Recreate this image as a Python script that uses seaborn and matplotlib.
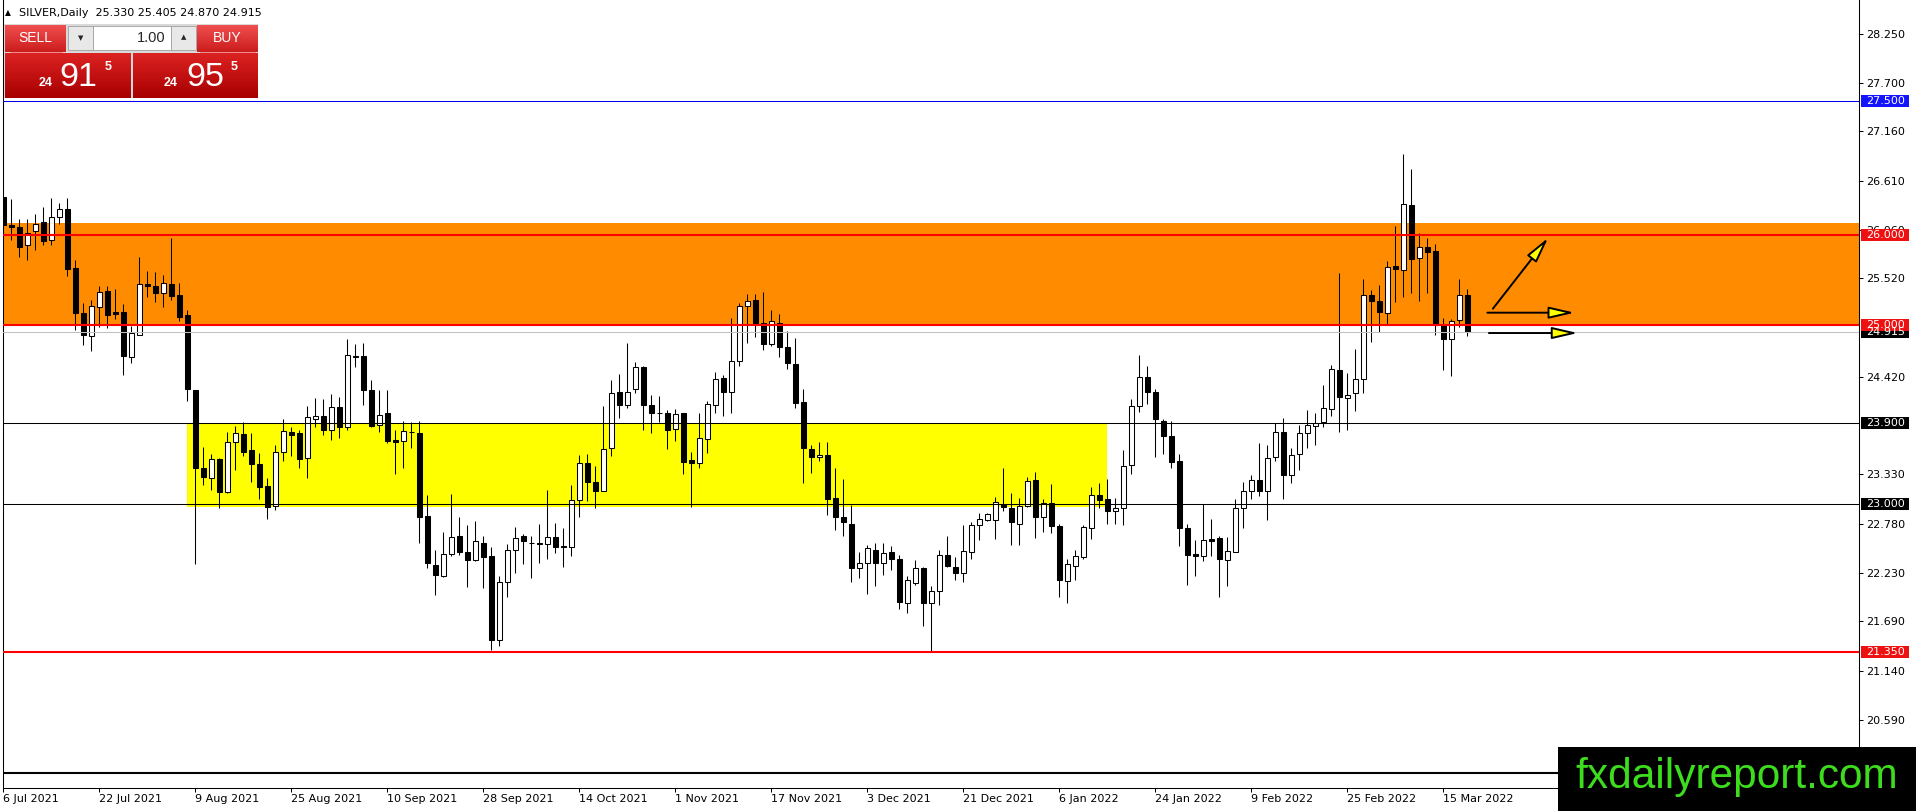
import matplotlib
matplotlib.use('Agg')
import matplotlib.pyplot as plt
from matplotlib.patches import Rectangle
from matplotlib.colors import LinearSegmentedColormap
import numpy as np
import seaborn as sns

# Daily SILVER candles, 6 Jul 2021 .. 18 Mar 2022 (one per weekday)
opens = [26.43, 26.11, 26.09, 25.89, 26.05, 26.15, 25.95, 26.20, 26.29, 25.63,
         25.13, 24.88, 25.20, 25.38, 25.14, 25.14, 24.64, 24.89, 25.46, 25.43,
         25.35, 25.46, 25.33, 25.11, 24.27, 23.40, 23.29, 23.50, 23.13, 23.69,
         23.78, 23.60, 23.45, 23.20, 22.98, 23.58, 23.80, 23.79, 23.51, 23.95,
         23.98, 23.83, 24.08, 23.86, 24.65, 24.65, 24.27, 23.88, 24.01, 23.71,
         23.70, 23.80, 23.79, 22.87, 22.32, 22.20, 22.44, 22.64, 22.46, 22.38,
         22.57, 22.42, 21.48, 22.13, 22.49, 22.64, 22.57, 22.57, 22.55, 22.63,
         22.53, 22.52, 23.04, 23.46, 23.25, 23.15, 23.62, 24.25, 24.11, 24.28,
         24.53, 24.11, 24.02, 24.01, 23.84, 24.01, 23.49, 23.46, 23.73, 24.10,
         24.41, 24.25, 24.60, 25.21, 25.28, 25.02, 24.78, 25.02, 24.75, 24.56,
         24.14, 23.61, 23.52, 23.55, 23.07, 22.85, 22.78, 22.28, 22.34, 22.49,
         22.34, 22.46, 22.39, 21.90, 22.12, 22.28, 21.89, 22.03, 22.43, 22.30,
         22.23, 22.46, 22.76, 22.82, 22.82, 23.00, 22.96, 22.78, 22.98, 23.27,
         22.85, 23.01, 22.75, 22.14, 22.31, 22.41, 22.73, 23.10, 23.05, 22.92,
         22.96, 23.44, 24.09, 24.42, 24.25, 23.93, 23.76, 23.48, 22.73, 22.44,
         22.42, 22.61, 22.62, 22.38, 22.46, 22.96, 23.15, 23.27, 23.15, 23.52,
         23.80, 23.32, 23.56, 23.79, 23.87, 23.91, 24.06, 24.50, 24.18, 24.24,
         24.39, 25.33, 25.27, 25.13, 25.66, 25.61, 26.34, 25.74, 25.87, 25.82,
         25.00, 24.84, 25.05, 25.33]
highs = [26.74, 26.40, 26.18, 26.18, 26.24, 26.31, 26.42, 26.36, 26.41, 25.72,
         25.24, 25.28, 25.43, 25.43, 25.40, 25.23, 24.99, 25.76, 25.60, 25.59,
         25.56, 25.97, 25.47, 25.17, 24.27, 23.64, 23.56, 23.51, 23.80, 23.87,
         23.92, 23.79, 23.57, 23.29, 23.66, 23.95, 23.86, 23.83, 24.09, 24.18,
         24.17, 24.23, 24.19, 24.84, 24.79, 24.80, 24.38, 24.27, 24.27, 23.83,
         23.93, 23.92, 23.93, 23.10, 22.49, 22.69, 23.11, 22.85, 22.77, 22.81,
         22.64, 22.52, 22.20, 22.55, 22.74, 22.67, 22.64, 22.78, 23.16, 22.79,
         22.73, 23.21, 23.55, 23.56, 23.42, 24.09, 24.38, 24.45, 24.80, 24.59,
         24.54, 24.22, 24.20, 24.05, 24.06, 24.02, 23.58, 24.01, 24.15, 24.47,
         24.44, 25.08, 25.24, 25.34, 25.34, 25.37, 25.17, 25.12, 24.93, 24.85,
         24.28, 23.66, 23.69, 23.69, 23.40, 23.28, 22.99, 22.46, 22.54, 22.57,
         22.56, 22.53, 22.43, 22.20, 22.38, 22.30, 22.08, 22.49, 22.64, 22.41,
         22.76, 22.80, 22.90, 22.90, 23.08, 23.40, 23.12, 23.07, 23.30, 23.36,
         23.06, 23.22, 22.78, 22.39, 22.49, 22.77, 23.19, 23.23, 23.28, 23.07,
         23.60, 24.17, 24.66, 24.54, 24.28, 23.95, 23.93, 23.56, 22.78, 22.60,
         23.00, 22.83, 22.64, 22.63, 23.06, 23.25, 23.32, 23.68, 23.66, 23.90,
         23.96, 23.63, 23.88, 24.05, 24.01, 24.33, 24.55, 25.58, 24.46, 24.73,
         25.51, 25.39, 25.44, 25.71, 26.10, 26.91, 26.74, 26.03, 25.97, 25.90,
         25.08, 25.07, 25.51, 25.405]
lows = [25.97, 25.95, 25.76, 25.72, 25.84, 25.89, 25.89, 26.13, 25.55, 24.94,
        24.77, 24.71, 24.97, 24.96, 25.07, 24.44, 24.57, 24.89, 25.31, 25.25,
        25.20, 25.28, 25.04, 24.15, 22.33, 23.21, 23.16, 22.96, 23.12, 23.38,
        23.53, 23.25, 23.05, 22.83, 22.93, 23.48, 23.53, 23.40, 23.29, 23.86,
        23.77, 23.71, 23.74, 23.83, 24.53, 24.11, 23.86, 23.80, 23.68, 23.34,
        23.40, 23.62, 22.56, 22.29, 21.98, 22.19, 22.42, 22.43, 22.07, 22.36,
        22.06, 21.37, 21.42, 21.96, 22.23, 22.33, 22.17, 22.34, 22.39, 22.45,
        22.30, 22.42, 22.86, 23.03, 22.96, 23.14, 23.53, 23.96, 24.07, 24.24,
        23.83, 23.79, 23.91, 23.61, 23.70, 23.34, 22.97, 23.40, 23.57, 24.01,
        23.98, 24.01, 24.54, 24.80, 24.86, 24.72, 24.76, 24.64, 24.51, 24.07,
        23.23, 23.35, 23.48, 22.88, 22.71, 22.64, 22.13, 22.17, 22.00, 22.08,
        22.21, 22.26, 21.83, 21.78, 22.10, 21.64, 21.36, 21.87, 22.30, 22.15,
        22.13, 22.39, 22.60, 22.81, 22.61, 22.92, 22.54, 22.54, 22.97, 22.62,
        22.69, 22.68, 21.96, 21.90, 22.15, 22.39, 22.61, 22.95, 22.78, 22.78,
        22.76, 23.34, 24.03, 24.12, 23.52, 23.56, 23.40, 22.53, 22.10, 22.20,
        22.36, 22.42, 21.96, 22.08, 22.46, 22.73, 23.05, 23.09, 22.82, 23.48,
        23.05, 23.23, 23.38, 23.63, 23.66, 23.86, 23.98, 23.80, 23.83, 24.04,
        24.24, 24.81, 24.92, 25.00, 25.25, 25.31, 25.35, 25.27, 25.36, 24.89,
        24.50, 24.43, 24.97, 24.87]
closes = [26.11, 26.09, 25.87, 26.03, 26.13, 25.94, 26.20, 26.29, 25.62, 25.13,
          24.89, 25.21, 25.37, 25.11, 25.12, 24.65, 24.91, 25.46, 25.43, 25.35,
          25.47, 25.32, 25.09, 24.28, 23.40, 23.30, 23.50, 23.13, 23.69, 23.79,
          23.58, 23.45, 23.19, 22.97, 23.58, 23.81, 23.77, 23.50, 23.97, 23.98,
          23.83, 24.08, 23.86, 24.66, 24.64, 24.27, 23.87, 23.99, 23.70, 23.69,
          23.82, 23.80, 22.86, 22.34, 22.21, 22.44, 22.63, 22.46, 22.37, 22.59,
          22.41, 21.48, 22.13, 22.49, 22.62, 22.59, 22.56, 22.55, 22.63, 22.52,
          22.52, 23.04, 23.46, 23.24, 23.14, 23.61, 24.24, 24.11, 24.25, 24.53,
          24.11, 24.02, 24.01, 23.83, 24.00, 23.47, 23.46, 23.74, 24.12, 24.40,
          24.25, 24.60, 25.21, 25.27, 25.02, 24.79, 25.04, 24.75, 24.57, 24.13,
          23.62, 23.52, 23.55, 23.06, 22.85, 22.80, 22.28, 22.34, 22.51, 22.34,
          22.45, 22.39, 21.91, 22.15, 22.28, 21.89, 22.03, 22.43, 22.31, 22.23,
          22.47, 22.76, 22.83, 22.89, 23.02, 22.97, 22.80, 22.98, 23.26, 22.85,
          23.01, 22.75, 22.15, 22.33, 22.42, 22.74, 23.10, 23.04, 22.92, 22.96,
          23.42, 24.09, 24.42, 24.25, 23.95, 23.76, 23.47, 22.73, 22.43, 22.42,
          22.60, 22.59, 22.39, 22.47, 22.96, 23.15, 23.27, 23.15, 23.51, 23.80,
          23.32, 23.55, 23.79, 23.88, 23.90, 24.07, 24.51, 24.19, 24.22, 24.40,
          25.33, 25.26, 25.14, 25.65, 25.62, 26.35, 25.73, 25.87, 25.81, 25.00,
          24.84, 25.04, 25.33, 24.915]

# bottom time scale, one label every 12 bars
date_labels = ['6 Jul 2021', '22 Jul 2021', '9 Aug 2021', '25 Aug 2021',
               '10 Sep 2021', '28 Sep 2021', '14 Oct 2021', '1 Nov 2021',
               '17 Nov 2021', '3 Dec 2021', '21 Dec 2021', '6 Jan 2022',
               '24 Jan 2022', '9 Feb 2022', '25 Feb 2022', '15 Mar 2022']
# scale labels that are not hidden behind a level box
price_ticks = [28.25, 27.70, 27.16, 26.61, 26.06, 25.52, 24.42,
               23.33, 22.78, 22.23, 21.69, 21.14, 20.59]

# drawn levels and zones
level_prices = [27.5, 26.0, 25.0, 23.9, 23.0, 21.35, 24.915, 20.0]
level_colors = ['#0000ee', '#ff0000', '#ff0000', 'black', 'black', '#ff0000',
                '#c0c0c0', 'black']
level_widths = [0.75, 1.5, 1.5, 0.75, 0.75, 1.5, 0.75, 1.5]
label_prices = [27.5, 26.0, 23.9, 23.0, 21.35, 24.915, 25.0]
label_colors = ['#1414ff', '#ee1111', 'black', 'black', '#ee1111', 'black', '#ee1111']
orange_zone = (25.0, 26.14)
yellow_zone = (23.0, 137.9, 22.97, 23.9)   # bar from, bar to, low, high

W, H = 1916, 811


def grad_box(ov, x0, y0, w, h, top, bottom, z=20):
    cmap = LinearSegmentedColormap.from_list('g', [top, bottom])
    ov.imshow(np.linspace(0, 1, 60).reshape(-1, 1), cmap=cmap, aspect='auto',
              extent=(x0, x0 + w, y0 + h, y0), origin='upper', zorder=z)


def main():
    sns.set_theme(style='white')
    plt.rcParams['font.family'] = ['DejaVu Sans']

    fig = plt.figure(figsize=(W / 100, H / 100), dpi=100, facecolor='white')
    ax = fig.add_axes([2.7 / W, 23 / H, (1859 - 2.7) / W, 788 / H])
    ax.set_facecolor('white')

    o = np.array(opens)
    h = np.array(highs)
    l = np.array(lows)
    c = np.array(closes)
    x = np.arange(len(o))
    up = c >= o

    # zones
    ax.axhspan(orange_zone[0], orange_zone[1], color='#ff8c00', lw=0, zorder=0.5)
    yx0, yx1, ylo, yhi = yellow_zone
    ax.add_patch(Rectangle((yx0, ylo), yx1 - yx0, yhi - ylo, color='#ffff00',
                           lw=0, zorder=0.6))

    # candles
    ax.vlines(x, l, h, color='black', lw=0.75, zorder=3)
    ax.bar(x, np.abs(c - o), bottom=np.minimum(o, c), width=0.55,
           color=np.where(up, 'white', 'black'), edgecolor='black',
           linewidth=0.75, zorder=4)

    # horizontal levels
    for p, col, lw in zip(level_prices, level_colors, level_widths):
        ax.axhline(p, color=col, lw=lw, zorder=5)

    # arrows
    arr = dict(arrowstyle='-|>,head_length=1.3,head_width=0.3', fc='#ffff00',
               ec='black', lw=1.4, shrinkA=0, shrinkB=0)
    ax.annotate('', xy=(193.1, 25.97), xytext=(186.2, 25.18), arrowprops=arr, zorder=6)
    ax.annotate('', xy=(196.4, 25.135), xytext=(185.5, 25.135), arrowprops=arr, zorder=6)
    ax.annotate('', xy=(196.8, 24.908), xytext=(185.7, 24.908), arrowprops=arr, zorder=6)

    ax.set_xlim(-0.075, 231.96)
    ax.set_ylim(19.83, 28.625)

    # price scale on the right
    ax.yaxis.tick_right()
    ax.set_yticks(price_ticks)
    ax.set_yticklabels(['%.3f' % p for p in price_ticks])
    ax.set_xticks(np.arange(0, 12 * len(date_labels), 12))
    ax.set_xticklabels(date_labels, ha='left')
    ax.tick_params(axis='y', which='major', right=True, left=False, direction='out',
                   length=3, width=0.75, pad=2, labelsize=8, colors='black')
    ax.tick_params(axis='x', which='major', bottom=True, direction='out',
                   length=3, width=0.75, pad=1.5, labelsize=8, colors='black')
    ax.grid(False)
    for side in ['left', 'right', 'bottom']:
        ax.spines[side].set_color('black')
        ax.spines[side].set_linewidth(0.75)
    ax.spines['top'].set_visible(False)

    # highlighted price labels
    tr = ax.get_yaxis_transform()
    span = 1859 - 2.7
    for p, col in zip(label_prices, label_colors):
        ax.add_patch(Rectangle((1 + 2 / span, p - 0.067), 48 / span, 0.134,
                               transform=tr, color=col, lw=0, clip_on=False, zorder=10))
        ax.text(1 + 7 / span, p, '%.3f' % p, transform=tr, color='white', fontsize=8,
                va='center', ha='left', clip_on=False, zorder=11)

    # overlay in pixel units: trading panel, header, watermark
    ov = fig.add_axes([0, 0, 1, 1])
    ov.patch.set_alpha(0)
    ov.set_autoscale_on(False)
    ov.set_xlim(0, W)
    ov.set_ylim(H, 0)
    ov.axis('off')

    ov.text(5, 13, '\u25b2', fontsize=5.5, va='center', ha='left', color='black')
    ov.text(19, 13, 'SILVER,Daily  25.330 25.405 24.870 24.915', fontsize=8,
            va='center', ha='left', color='black')

    ov.add_patch(Rectangle((4, 24), 254, 74, color='#d9d9d9', lw=0, zorder=19))
    grad_box(ov, 5, 25, 61, 27, '#f05050', '#cc1c1c')
    grad_box(ov, 197, 25, 61, 27, '#f05050', '#cc1c1c')
    grad_box(ov, 5, 53, 126, 45, '#dc2222', '#a80000')
    grad_box(ov, 133, 53, 125, 45, '#dc2222', '#a80000')
    ov.add_patch(Rectangle((68, 26), 25, 24, fc='#e8e8e8', ec='#a0a0a0', lw=0.6, zorder=21))
    ov.add_patch(Rectangle((93, 26), 78, 24, fc='white', ec='#a0a0a0', lw=0.6, zorder=21))
    ov.add_patch(Rectangle((171, 26), 25, 24, fc='#e8e8e8', ec='#a0a0a0', lw=0.6, zorder=21))
    ov.plot([10, 62], [52, 52], color='#f08080', lw=0.6, zorder=22)
    ov.plot([200, 255], [52, 52], color='#f08080', lw=0.6, zorder=22)
    ov.text(80.5, 38, '\u25bc', fontsize=5, ha='center', va='center', zorder=22)
    ov.text(183.5, 37, '\u25b2', fontsize=5, ha='center', va='center', zorder=22)
    ov.text(166, 38, '1.00', fontsize=10.5, ha='right', va='center', zorder=22,
            family='Liberation Sans')
    ov.text(35, 38, 'SELL', fontsize=10, color='white', ha='center', va='center',
            zorder=22, family='Liberation Sans')
    ov.text(227, 38, 'BUY', fontsize=10, color='white', ha='center', va='center',
            zorder=22, family='Liberation Sans')
    for xs, big in [((39, 59, 105), '91'), ((164, 186, 231), '95')]:
        ov.text(xs[0], 86, '24', fontsize=9, weight='bold', color='white',
                va='baseline', zorder=22, family='Liberation Sans')
        ov.text(xs[1], 86, big, fontsize=24.5, color='white', va='baseline',
                zorder=22, family='Liberation Sans')
        ov.text(xs[2], 70, '5', fontsize=9, weight='bold', color='white',
                va='baseline', zorder=22, family='Liberation Sans')

    ov.add_patch(Rectangle((1558, 747), 360, 66, color='black', lw=0, zorder=30))
    ov.text(1575, 788, 'fxdailyreport.com', color='#3ddc1e', fontsize=30.5,
            va='baseline', ha='left', family='Liberation Sans', zorder=31)

    fig.savefig('out.png', dpi=100, facecolor='white')


if __name__ == '__main__':
    main()
